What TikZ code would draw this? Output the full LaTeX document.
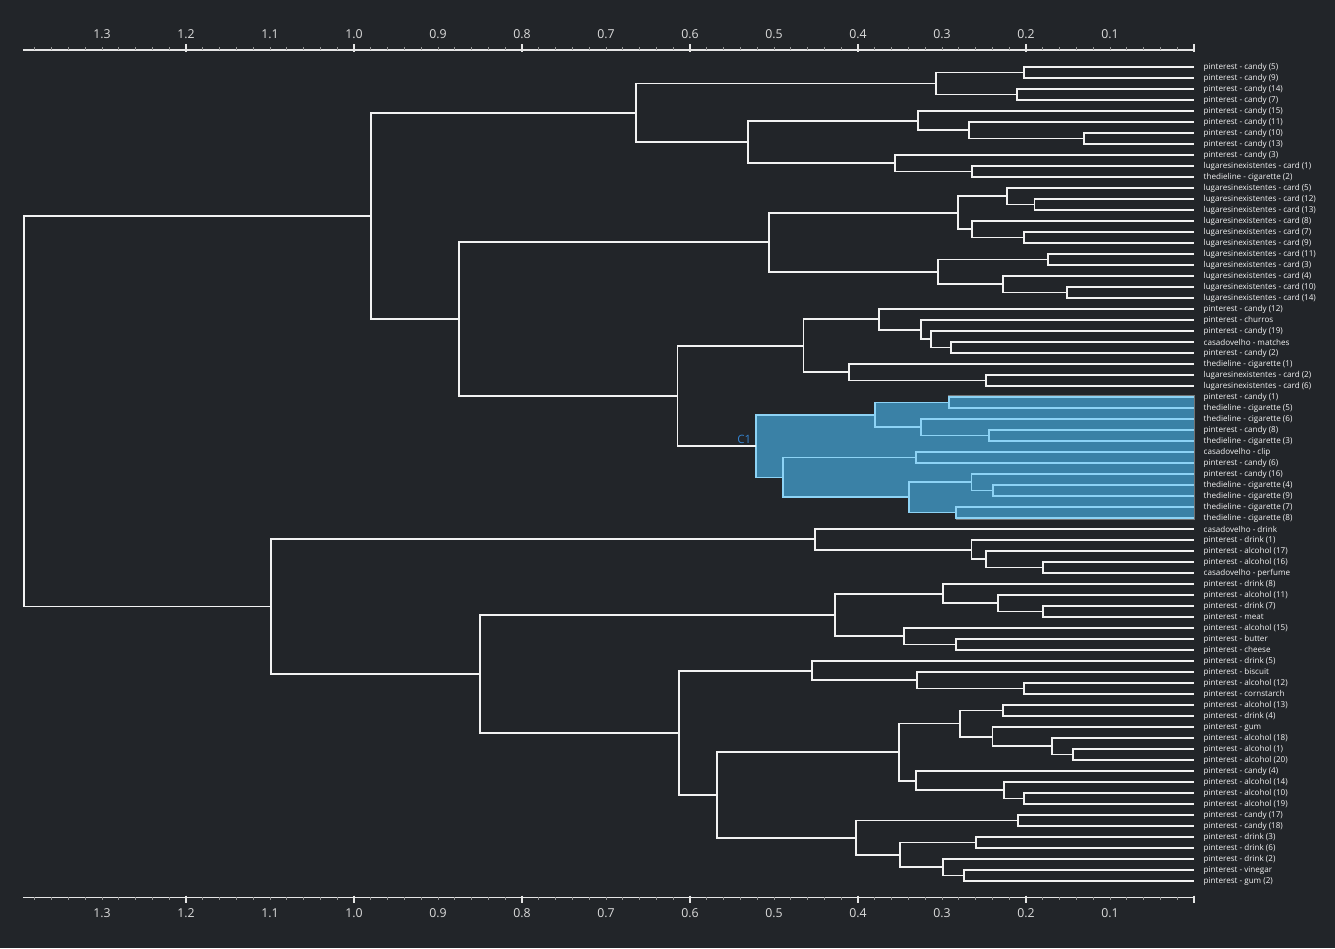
\documentclass[tikz,border=0pt]{standalone}
\usepackage{fontspec}
\setmainfont{Open Sans}
\usepackage{tikz}
\usetikzlibrary{positioning,calc}
\definecolor{canvas}{HTML}{222529}
\definecolor{branchcol}{HTML}{F2F2F2}
\definecolor{clusterfill}{HTML}{3A81A6}
\definecolor{clusterline}{HTML}{8DD3F5}
\definecolor{clustertag}{HTML}{3584D0}
\definecolor{ticktext}{HTML}{DCDCDC}
\tikzset{
  branch/.style  ={draw=branchcol, line width=1.8pt},
  hibranch/.style={draw=clusterline, line width=1.8pt},
  clusterbox/.style={fill=clusterfill, draw=black!55, line width=0.9pt},
  leaflab/.style ={inner sep=0pt, text=white!96!black,
                   font=\fontsize{8.1}{9}\selectfont},
  axislab/.style ={inner sep=0pt, text=ticktext,
                   font=\fontsize{12.3}{13}\selectfont},
  tagtext/.style ={inner sep=0pt, text=clustertag,
                   font=\fontsize{11.5}{12}\selectfont},
  axisline/.style={draw=white!90!black, line width=1.2pt},
  minortick/.style={draw=gray!85, line width=0.9pt},
  majortick/.style={draw=white!90!black, line width=1.2pt},
}
% leaves, top to bottom
\def\leaflist{pinterest - candy (5), pinterest - candy (9), pinterest - candy (14),
  pinterest - candy (7), pinterest - candy (15), pinterest - candy (11),
  pinterest - candy (10), pinterest - candy (13), pinterest - candy (3),
  lugaresinexistentes - card (1), thedieline - cigarette (2),
  lugaresinexistentes - card (5), lugaresinexistentes - card (12),
  lugaresinexistentes - card (13), lugaresinexistentes - card (8),
  lugaresinexistentes - card (7), lugaresinexistentes - card (9),
  lugaresinexistentes - card (11), lugaresinexistentes - card (3),
  lugaresinexistentes - card (4), lugaresinexistentes - card (10),
  lugaresinexistentes - card (14), pinterest - candy (12), pinterest - churros,
  pinterest - candy (19), casadovelho - matches, pinterest - candy (2),
  thedieline - cigarette (1), lugaresinexistentes - card (2),
  lugaresinexistentes - card (6), pinterest - candy (1),
  thedieline - cigarette (5), thedieline - cigarette (6), pinterest - candy (8),
  thedieline - cigarette (3), casadovelho - clip, pinterest - candy (6),
  pinterest - candy (16), thedieline - cigarette (4), thedieline - cigarette (9),
  thedieline - cigarette (7), thedieline - cigarette (8), casadovelho - drink,
  pinterest - drink (1), pinterest - alcohol (17), pinterest - alcohol (16),
  casadovelho - perfume, pinterest - drink (8), pinterest - alcohol (11),
  pinterest - drink (7), pinterest - meat, pinterest - alcohol (15),
  pinterest - butter, pinterest - cheese, pinterest - drink (5),
  pinterest - biscuit, pinterest - alcohol (12), pinterest - cornstarch,
  pinterest - alcohol (13), pinterest - drink (4), pinterest - gum,
  pinterest - alcohol (18), pinterest - alcohol (1), pinterest - alcohol (20),
  pinterest - candy (4), pinterest - alcohol (14), pinterest - alcohol (10),
  pinterest - alcohol (19), pinterest - candy (17), pinterest - candy (18),
  pinterest - drink (3), pinterest - drink (6), pinterest - drink (2),
  pinterest - vinegar, pinterest - gum (2)}
% merges: name/height/child/child
\def\clusterlist{k1/0.292/l31/l32, k2/0.244/l34/l35, k3/0.325/l33/k2,
  k4/0.380/k1/k3, k5/0.331/l36/l37, k6/0.239/l39/l40, k7/0.265/l38/k6,
  k8/0.283/l41/l42, k9/0.339/k7/k8, k10/0.489/k5/k9, k11/0.521/k4/k10}
\def\treelist{a1/0.202/l1/l2, a2/0.211/l3/l4, a3/0.307/a1/a2,
  a4/0.131/l7/l8, a5/0.268/l6/a4, a6/0.329/l5/a5, a7/0.264/l10/l11,
  a8/0.356/l9/a7, a9/0.531/a6/a8, a10/0.664/a3/a9,
  b1/0.190/l13/l14, b2/0.223/l12/b1, b3/0.202/l16/l17, b4/0.264/l15/b3,
  b5/0.281/b2/b4, b6/0.174/l18/l19, b7/0.151/l21/l22, b8/0.227/l20/b7,
  b9/0.305/b6/b8, b10/0.506/b5/b9,
  c1/0.289/l26/l27, c2/0.313/l25/c1, c3/0.325/l24/c2, c4/0.375/l23/c3,
  c5/0.248/l29/l30, c6/0.411/l28/c5, c7/0.465/c4/c6, c8/0.615/c7/k11,
  c9/0.875/b10/c8, c10/0.980/a10/c9,
  d1/0.180/l46/l47, d2/0.248/l45/d1, d3/0.265/l44/d2, d4/0.451/l43/d3,
  e1/0.180/l50/l51, e2/0.233/l49/e1, e3/0.299/l48/e2, e4/0.283/l53/l54,
  e5/0.345/l52/e4, e6/0.427/e3/e5,
  f1/0.202/l57/l58, f2/0.330/l56/f1, f3/0.455/l55/f2,
  g1/0.227/l59/l60, g2/0.144/l63/l64, g3/0.169/l62/g2, g4/0.240/l61/g3,
  g5/0.279/g1/g4, g6/0.202/l67/l68, g7/0.226/l66/g6, g8/0.331/l65/g7,
  g9/0.351/g5/g8,
  h1/0.210/l69/l70, h2/0.260/l71/l72, h3/0.274/l74/l75, h4/0.299/l73/h3,
  h5/0.350/h2/h4, h6/0.402/h1/h5, h7/0.568/g9/h6,
  f4/0.613/f3/h7, e7/0.850/e6/f4, d5/1.099/d4/e7, root/1.393/c10/d5}
\newcommand{\placemerge}[4]{%
  \path let \p1=(#3), \p2=(#4) in
    coordinate (#1) at ({(1194-840*#2)*1pt}, {0.5*\y1+0.5*\y2});}

\begin{document}
\begin{tikzpicture}[x=1pt,y=-1pt]
\fill[canvas] (0,0) rectangle (1335,948);
\useasboundingbox (0,0) rectangle (1335,948);
% leaves and their labels
\foreach \t [count=\i] in \leaflist {
  \coordinate (l\i) at (1194,{56+11*\i});
  \node[leaflab, right=9.5pt of l\i, yshift=-0.5pt] (t\i) {\t};
}
% merge points
\foreach \m/\d/\a/\b in \clusterlist {\placemerge{\m}{\d}{\a}{\b}}
\foreach \m/\d/\a/\b in \treelist {\placemerge{\m}{\d}{\a}{\b}}
% highlighted cluster C1
\path[clusterbox] (k11 |- k4) -- (k4) -- (k4 |- k1) -- (k1)
  -- ($(k1 |- l31)+(0,-1.5)$) -- ($(l31)+(0,-1.5)$) -- ($(l42)+(0,1.5)$)
  -- ($(k8 |- l42)+(0,1.5)$) -- (k8) -- (k9 |- k8) -- (k9) -- (k10 |- k9)
  -- (k10) -- (k11 |- k10) -- cycle;
\foreach \m/\d/\a/\b in \clusterlist {\draw[hibranch] (\a) -| (\m) |- (\b);}
\foreach \m/\d/\a/\b in \treelist {\draw[branch] (\a) -| (\m) |- (\b);}
\node[tagtext, above left=2.5pt and 5pt of k11] (ctag) {C1};
% axes, top and bottom
\draw[axisline] (23,50) -- (1195,50);
\draw[axisline] (23,897.3) -- (1195,897.3);
\foreach \k in {0,...,69} {
  \draw[minortick] ({1194-16.8*\k},47) -- ({1194-16.8*\k},50);
  \draw[minortick] ({1194-16.8*\k},897.3) -- ({1194-16.8*\k},900.3);
}
\foreach \k in {0,...,6} {
  \draw[majortick] ({1194-168*\k},44.3) -- ({1194-168*\k},51.7);
  \draw[majortick] ({1194-168*\k},895.7) -- ({1194-168*\k},903);
}
\foreach \v [count=\k] in {0.1,0.2,0.3,0.4,0.5,0.6,0.7,0.8,0.9,1.0,1.1,1.2,1.3} {
  \node[axislab] (ax\k) at ({1194-840*\v},34.5) {\v};
  \node[axislab] (bx\k) at ({1194-840*\v},913.5) {\v};
}
\end{tikzpicture}
\end{document}
